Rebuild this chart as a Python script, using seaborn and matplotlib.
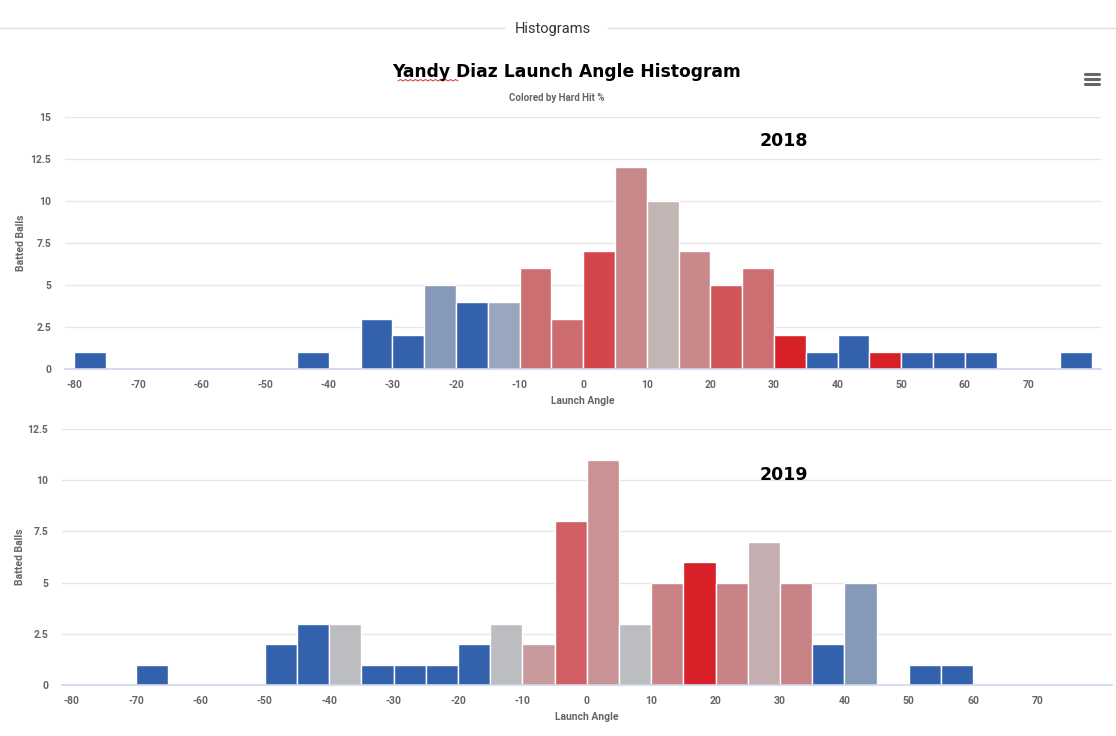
import numpy as np
import pandas as pd
import seaborn as sns
import matplotlib.pyplot as plt
from matplotlib.lines import Line2D

# bin starts (launch angle, 5 degree bins), counts and bar colours (hard hit %)
starts_2018 = [-80, -45, -35, -30, -25, -20, -15, -10, -5, 0, 5, 10, 15, 20, 25, 30, 35, 40, 45, 50, 55, 60, 75]
counts_2018 = [1, 1, 3, 2, 5, 4, 4, 6, 3, 7, 12, 10, 7, 5, 6, 2, 1, 2, 1, 1, 1, 1, 1]
colors_2018 = ['#3461ac', '#3461ac', '#3461ac', '#3461ac', '#8799b9', '#3461ac', '#9aa6bd',
               '#cc6f73', '#ce6d71', '#d5464c', '#c9888a', '#c4b5b5', '#c9898b', '#d15458',
               '#cc6f73', '#d82028', '#3461ac', '#3461ac', '#d82028', '#3461ac', '#3461ac',
               '#3461ac', '#3461ac']

starts_2019 = [-70, -50, -45, -40, -35, -30, -25, -20, -15, -10, -5, 0, 5, 10, 15, 20, 25, 30, 35, 40, 50, 55]
counts_2019 = [1, 2, 3, 3, 1, 1, 1, 2, 3, 2, 8, 11, 3, 5, 6, 5, 7, 5, 2, 5, 1, 1]
colors_2019 = ['#3461ac', '#3461ac', '#3461ac', '#bcbdc0', '#3461ac', '#3461ac', '#3461ac',
               '#3461ac', '#bcbdc0', '#c99a9c', '#d05e62', '#c99295', '#bcbdc0', '#c98285',
               '#d82028', '#c98285', '#c4aeaf', '#c98285', '#3461ac', '#8799b8', '#3461ac',
               '#3461ac']

x_ticks = [-80, -70, -60, -50, -40, -30, -20, -10, 0, 10, 20, 30, 40, 50, 60, 70]
yticks_2018 = [0, 2.5, 5, 7.5, 10, 12.5, 15]
yticks_2019 = [0, 2.5, 5, 7.5, 10, 12.5]

sns.set_theme(style="white")
plt.rcParams['font.family'] = ['Roboto', 'DejaVu Sans']
plt.rcParams['axes.unicode_minus'] = False

LABEL = '#666666'
GRID = '#e6e6e6'
AXIS = '#ccd6eb'


def draw_panel(ax, starts, counts, colors, yticks, year, year_pos, ylab_x):
    df = pd.DataFrame({'angle': np.array(starts, dtype=float) + 2.5,
                       'n': np.array(counts, dtype=float)})
    sns.histplot(data=df, x='angle', weights='n', binwidth=5, binrange=(-80, 80), ax=ax,
                 alpha=1, edgecolor='white', linewidth=1.0)
    cmap = dict(zip(starts, colors))
    for p in ax.patches:
        left = int(round(p.get_x()))
        if p.get_height() == 0 or left not in cmap:
            p.set_visible(False)
        else:
            p.set_facecolor(cmap[left])
            p.set_zorder(2)
    ax.set_xlim(-81.5, 81.5)
    ax.set_ylim(0, yticks[-1])
    ax.set_xticks(x_ticks)
    ax.set_xticklabels([str(t) for t in x_ticks])
    ax.set_yticks(yticks)
    ax.set_yticklabels([f'{t:g}' for t in yticks])
    ax.tick_params(axis='both', labelsize=7.5, colors=LABEL, length=0)
    ax.tick_params(axis='x', length=5, color=AXIS, width=1, pad=3)
    for lab in ax.get_xticklabels() + ax.get_yticklabels():
        lab.set_fontweight('bold')
    ax.tick_params(axis='y', pad=10)
    ax.grid(axis='y', color=GRID, linewidth=1)
    ax.set_axisbelow(True)
    for s in ['top', 'right', 'left']:
        ax.spines[s].set_visible(False)
    ax.spines['bottom'].set_color(AXIS)
    ax.spines['bottom'].set_linewidth(1.2)
    ax.spines['bottom'].set_zorder(3)
    ax.set_xlabel('Launch Angle', fontsize=7.5, color=LABEL, fontweight='bold', labelpad=4)
    ax.set_ylabel('Batted Balls', fontsize=7.5, color=LABEL, fontweight='bold')
    ax.yaxis.set_label_coords(ylab_x, 0.5)
    ax.text(year_pos[0], year_pos[1], year, transform=ax.transAxes, ha='center', va='center',
            fontsize=12.5, fontweight='heavy', color='black', family=['DejaVu Sans'])


fig = plt.figure(figsize=(11.16, 7.36), dpi=100)
ax1 = fig.add_axes([0.0582, 0.4986, 0.9288, 0.3424])
ax2 = fig.add_axes([0.0556, 0.0693, 0.9404, 0.3478])

draw_panel(ax1, starts_2018, counts_2018, colors_2018, yticks_2018, '2018',
           (0.694, 0.905), -0.038)
draw_panel(ax2, starts_2019, counts_2019, colors_2019, yticks_2019, '2019',
           (0.688, 0.82), -0.035)

# header band
fig.text(0.4955, 1 - 29 / 736, 'Histograms', ha='center', va='center', fontsize=10.5, color='#333333')
fig.add_artist(Line2D([0, 0.452], [1 - 28 / 736] * 2, color='#dddddd', lw=1))
fig.add_artist(Line2D([0.545, 1], [1 - 28 / 736] * 2, color='#dddddd', lw=1))

# titles
fig.text(0.508, 1 - 72 / 736, 'Yandy Diaz Launch Angle Histogram', ha='center', va='center',
         fontsize=12.3, fontweight='heavy', color='black', family=['DejaVu Sans'])
fig.text(0.4985, 1 - 98 / 736, 'Colored by Hard Hit %', ha='center', va='center',
         fontsize=7, fontweight='bold', color=LABEL)

# spell-check squiggle under "Yandy"
sq_x = np.linspace(398, 458, 25) / 1116
sq_y = (1 - 81 / 736) + np.tile([0, 1.5 / 736], 13)[:25]
fig.add_artist(Line2D(sq_x, sq_y, color='#e03030', lw=0.7))

# menu icon
for yy in (74, 79, 84):
    fig.add_artist(Line2D([1085 / 1116, 1099 / 1116], [1 - yy / 736] * 2, color='#666666', lw=2.2,
                          solid_capstyle='round'))

fig.savefig('out.png', dpi=100)
